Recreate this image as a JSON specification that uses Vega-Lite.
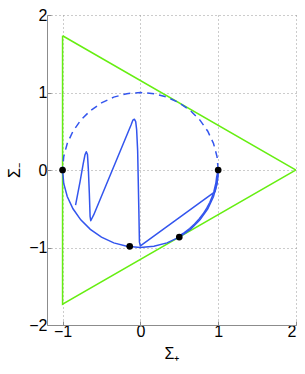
{
  "$schema": "https://vega.github.io/schema/vega-lite/v6.json",
  "width": 249,
  "height": 310,
  "autosize": {"type": "none"},
  "padding": {"left": 47, "top": 15, "right": 9, "bottom": 49},
  "background": "white",
  "config": {
    "view": {"stroke": null},
    "font": "Liberation Sans",
    "axis": {
      "grid": true,
      "gridColor": "#999999",
      "gridDash": [1, 3],
      "gridWidth": 1,
      "domainColor": "#8c8c8c",
      "tickColor": "#8c8c8c",
      "tickSize": -4,
      "labelFont": "Liberation Sans",
      "labelFontSize": 16,
      "labelColor": "black",
      "titleFont": "Liberation Sans",
      "titleFontSize": 16,
      "titleFontWeight": "normal",
      "titleColor": "black"
    }
  },
  "datasets": {
    "triangle": [
      {"i": 0, "x": -1, "y": 1.732},
      {"i": 1, "x": 2, "y": 0},
      {"i": 2, "x": -1, "y": -1.732},
      {"i": 3, "x": -1, "y": 1.732}
    ],
    "upper": [
      {"i": 0, "x": 1, "y": 0},
      {"i": 1, "x": 0.985, "y": 0.174},
      {"i": 2, "x": 0.94, "y": 0.342},
      {"i": 3, "x": 0.866, "y": 0.5},
      {"i": 4, "x": 0.766, "y": 0.643},
      {"i": 5, "x": 0.643, "y": 0.766},
      {"i": 6, "x": 0.5, "y": 0.866},
      {"i": 7, "x": 0.342, "y": 0.94},
      {"i": 8, "x": 0.174, "y": 0.985},
      {"i": 9, "x": 0, "y": 1},
      {"i": 10, "x": -0.174, "y": 0.985},
      {"i": 11, "x": -0.342, "y": 0.94},
      {"i": 12, "x": -0.5, "y": 0.866},
      {"i": 13, "x": -0.643, "y": 0.766},
      {"i": 14, "x": -0.766, "y": 0.643},
      {"i": 15, "x": -0.866, "y": 0.5},
      {"i": 16, "x": -0.94, "y": 0.342},
      {"i": 17, "x": -0.985, "y": 0.174},
      {"i": 18, "x": -1, "y": 0}
    ],
    "lower": [
      {"i": 0, "x": -1, "y": 0},
      {"i": 1, "x": -0.985, "y": -0.174},
      {"i": 2, "x": -0.94, "y": -0.342},
      {"i": 3, "x": -0.866, "y": -0.5},
      {"i": 4, "x": -0.766, "y": -0.643},
      {"i": 5, "x": -0.643, "y": -0.766},
      {"i": 6, "x": -0.5, "y": -0.866},
      {"i": 7, "x": -0.342, "y": -0.94},
      {"i": 8, "x": -0.174, "y": -0.985},
      {"i": 9, "x": 0, "y": -1},
      {"i": 10, "x": 0.174, "y": -0.985},
      {"i": 11, "x": 0.342, "y": -0.94},
      {"i": 12, "x": 0.5, "y": -0.866},
      {"i": 13, "x": 0.643, "y": -0.766},
      {"i": 14, "x": 0.766, "y": -0.643},
      {"i": 15, "x": 0.866, "y": -0.5},
      {"i": 16, "x": 0.94, "y": -0.342},
      {"i": 17, "x": 0.985, "y": -0.174},
      {"i": 18, "x": 1, "y": 0}
    ],
    "traj": [
      {"i": 0, "x": -0.833, "y": -0.452},
      {"i": 1, "x": -0.775, "y": -0.15},
      {"i": 2, "x": -0.735, "y": 0.08},
      {"i": 3, "x": -0.712, "y": 0.195},
      {"i": 4, "x": -0.695, "y": 0.236},
      {"i": 5, "x": -0.68, "y": 0.2},
      {"i": 6, "x": -0.668, "y": 0.0},
      {"i": 7, "x": -0.656, "y": -0.3},
      {"i": 8, "x": -0.646, "y": -0.6},
      {"i": 9, "x": -0.638, "y": -0.655},
      {"i": 10, "x": -0.6, "y": -0.58},
      {"i": 11, "x": -0.12, "y": 0.58},
      {"i": 12, "x": -0.097, "y": 0.643},
      {"i": 13, "x": -0.077, "y": 0.655},
      {"i": 14, "x": -0.06, "y": 0.625},
      {"i": 15, "x": -0.048, "y": 0.52},
      {"i": 16, "x": -0.035, "y": 0.25},
      {"i": 17, "x": -0.02, "y": -0.5},
      {"i": 18, "x": -0.012, "y": -0.93},
      {"i": 19, "x": 0.0, "y": -0.98},
      {"i": 20, "x": 0.96, "y": -0.28},
      {"i": 21, "x": 0.985, "y": -0.174},
      {"i": 22, "x": 0.997, "y": -0.08},
      {"i": 23, "x": 1, "y": 0},
      {"i": 24, "x": 0.981, "y": -0.086},
      {"i": 25, "x": 0.97, "y": -0.171},
      {"i": 26, "x": 0.945, "y": -0.276},
      {"i": 27, "x": 0.926, "y": -0.337},
      {"i": 28, "x": 0.893, "y": -0.416},
      {"i": 29, "x": 0.853, "y": -0.4925},
      {"i": 30, "x": 0.807, "y": -0.565},
      {"i": 31, "x": 0.755, "y": -0.633},
      {"i": 32, "x": 0.696, "y": -0.696},
      {"i": 33, "x": 0.633, "y": -0.755},
      {"i": 34, "x": 0.565, "y": -0.807},
      {"i": 35, "x": 0.4925, "y": -0.853}
    ],
    "dots": [
      {"x": -1, "y": 0},
      {"x": 1, "y": 0},
      {"x": 0.5, "y": -0.866},
      {"x": -0.137, "y": -0.985}
    ]
  },
  "encoding": {
    "x": {
      "field": "x",
      "type": "quantitative",
      "scale": {"domain": [-1.2, 2], "nice": false, "zero": false},
      "axis": {"values": [-1, 0, 1, 2], "title": "Σ₊", "labelPadding": 2, "titlePadding": 6, "format": "d"}
    },
    "y": {
      "field": "y",
      "type": "quantitative",
      "scale": {"domain": [-2, 2], "nice": false, "zero": false},
      "axis": {"values": [-2, -1, 0, 1, 2], "title": "Σ₋", "labelPadding": 4, "titlePadding": 6, "format": "d"}
    }
  },
  "layer": [
    {
      "data": {"name": "triangle"},
      "mark": {"type": "line", "color": "#66ee11", "strokeWidth": 1.5, "clip": true},
      "encoding": {"order": {"field": "i", "type": "quantitative"}}
    },
    {
      "data": {"name": "upper"},
      "mark": {"type": "line", "color": "#3355ee", "strokeWidth": 1.5, "strokeDash": [7, 5]},
      "encoding": {"order": {"field": "i", "type": "quantitative"}}
    },
    {
      "data": {"name": "lower"},
      "mark": {"type": "line", "color": "#3355ee", "strokeWidth": 1.5},
      "encoding": {"order": {"field": "i", "type": "quantitative"}}
    },
    {
      "data": {"name": "traj"},
      "mark": {"type": "line", "color": "#3355ee", "strokeWidth": 1.5, "strokeJoin": "round"},
      "encoding": {"order": {"field": "i", "type": "quantitative"}}
    },
    {
      "data": {"name": "dots"},
      "mark": {"type": "circle", "color": "black", "opacity": 1, "size": 45}
    }
  ]
}
